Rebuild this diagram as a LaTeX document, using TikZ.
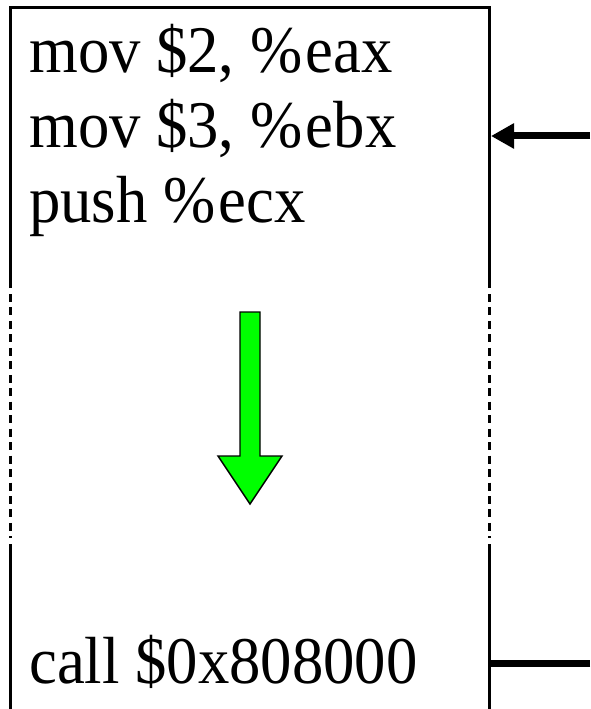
\documentclass[tikz,border=0pt]{standalone}
\usepackage{fontspec}
\setmainfont[FakeStretch=0.94]{Liberation Serif}
\usetikzlibrary{arrows.meta}

\newcommand{\pct}{\%\kern2.5pt}

\begin{document}
\begin{tikzpicture}[x=0.75pt,y=0.75pt,yscale=-1,xscale=1]
\tikzset{insn/.style={anchor=base west, inner sep=0pt, font=\fontsize{50pt}{56pt}\selectfont}}
\useasboundingbox (0,0) rectangle (590,709);

% code frame, open at the bottom
\draw [line width=2.25pt, line join=miter] (10,288) -- (10,8) -- (489,8) -- (489,288);
\draw [line width=2.25pt, dash pattern=on 6pt off 4.1pt] (10,294) -- (10,538);
\draw [line width=2.25pt, dash pattern=on 6pt off 4.1pt] (489,294) -- (489,538);
\draw [line width=2.25pt] (10,544) -- (10,709);
\draw [line width=2.25pt] (489,544) -- (489,709);

\node [insn] (ins1) at (29,73) {mov \$2, \pct eax};
\node [insn] (ins2) at (29,148) {mov \$3, \pct ebx};
\node [insn] (ins3) at (29,223) {push \pct ecx};
\node [insn] (ins4) at (29,683) {call \$0x808000};

% execution direction
\draw [fill={rgb,255:red,0;green,255;blue,0}, line width=1.1pt] (240,312) -- (260,312) -- (260,456) -- (282,456) -- (250,504) -- (218,456) -- (240,456) -- cycle;

% pointers from the right
\coordinate (pc) at (590,136);
\coordinate (pcend) at (491,136);
\draw [line width=5.25pt, -{Triangle[length=17.25pt,width=18pt]}] (pc) -- (pcend);

\coordinate (ret) at (590,663);
\coordinate (retend) at (490,663);
\draw [line width=5.25pt] (ret) -- (retend);

\end{tikzpicture}
\end{document}
